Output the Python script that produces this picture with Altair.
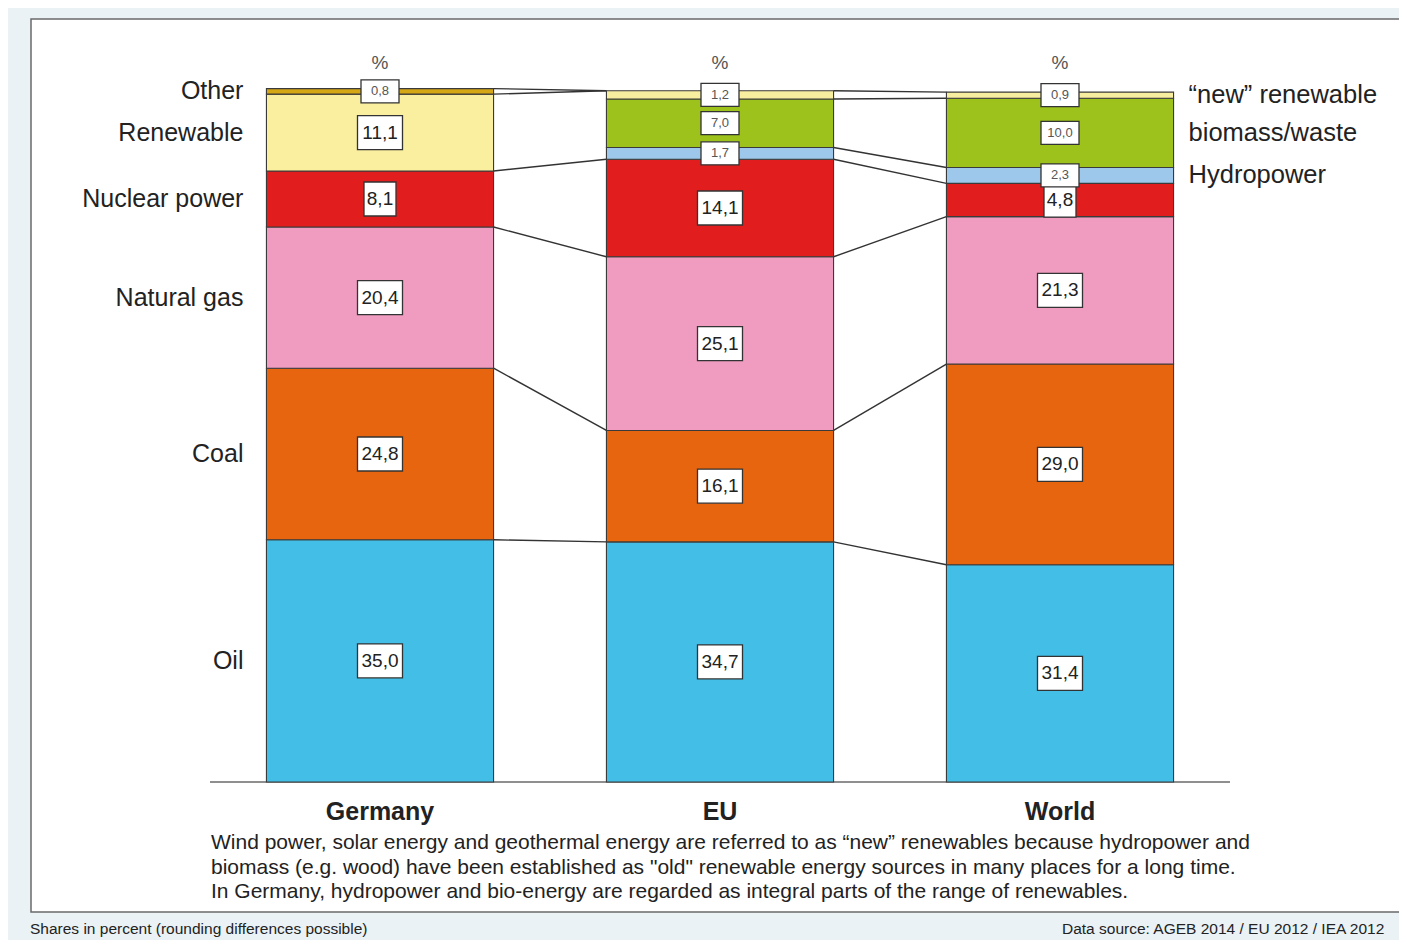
import altair as alt
import pandas as pd

# ---------------- data ----------------
regions = ["Germany", "EU", "World"]

germany_categories = ["Oil", "Coal", "Natural gas", "Nuclear power", "Renewable", "Other"]
germany_values = [35.0, 24.8, 20.4, 8.1, 11.1, 0.8]

eu_world_categories = ["Oil", "Coal", "Natural gas", "Nuclear power",
                       "Hydropower", "biomass/waste", "\u201cnew\u201d renewable"]
eu_values = [34.7, 16.1, 25.1, 14.1, 1.7, 7.0, 1.2]
world_values = [31.4, 29.0, 21.3, 4.8, 2.3, 10.0, 0.9]

category_order = ["Oil", "Coal", "Natural gas", "Nuclear power", "Renewable",
                  "Hydropower", "biomass/waste", "\u201cnew\u201d renewable", "Other"]
category_colors = ["#43BEE7", "#E8650F", "#F09CC0", "#E21D1D", "#FAEE9F",
                   "#9DC8EC", "#9DC21B", "#F8EEA0", "#D6A715"]
small_label_categories = ["Other", "Hydropower", "biomass/waste", "\u201cnew\u201d renewable"]
right_label_categories = ["Hydropower", "biomass/waste", "\u201cnew\u201d renewable"]

# boundaries linked between neighbouring bars (count of segments below boundary)
links_germany_eu = [(1, 1), (2, 2), (3, 3), (4, 4), (5, 7), (6, 7)]
links_eu_world = [(1, 1), (2, 2), (3, 3), (4, 4), (5, 5), (6, 6), (7, 7)]

footnote_lines = [
    "Wind power, solar energy and geothermal energy are referred to as \u201cnew\u201d renewables because hydropower and",
    "biomass (e.g. wood) have been established as \"old\" renewable energy sources in many places for a long time.",
    "In Germany, hydropower and bio-energy are regarded as integral parts of the range of renewables.",
]
source_left = "Shares in percent (rounding differences possible)"
source_right = "Data source: AGEB 2014 / EU 2012 / IEA 2012"

# ---------------- tables ----------------
HALF = 0.334
series = [(germany_categories, germany_values),
          (eu_world_categories, eu_values),
          (eu_world_categories, world_values)]

seg_rows = []
cums = []
for i, (cats, vals) in enumerate(series):
    c = 0.0
    cum = [0.0]
    for cat, v in zip(cats, vals):
        seg_rows.append(dict(region=regions[i], idx=i, category=cat, value=v,
                             start=c, end=c + v, mid=c + v / 2,
                             label=f"{v:.1f}".replace(".", ","),
                             left=i - HALF, right=i + HALF,
                             small=cat in small_label_categories))
        c += v
        cum.append(c)
    cums.append(cum)
seg = pd.DataFrame(seg_rows)

link_rows = []
for i, links in enumerate([links_germany_eu, links_eu_world]):
    for a, b in links:
        link_rows.append(dict(lx=i + HALF, rx=i + 1 - HALF, ly=cums[i][a], ry=cums[i + 1][b]))
links_df = pd.DataFrame(link_rows)

reg_df = pd.DataFrame(dict(region=regions, idx=list(range(len(regions)))))

# ---------------- chart ----------------
FONT = "Liberation Sans"
xscale = alt.Scale(domain=[-0.5, 2.5], nice=False, zero=False)
yscale = alt.Scale(domain=[0, 100], nice=False, zero=False)
W, H = 1020, 692

one = alt.Data(values=[{"a": 1}])

panel = alt.Chart(one).mark_rect(fill="white", stroke="#6a6a6a", strokeWidth=1.5).encode(
    x=alt.value(-179), x2=alt.value(1200), y=alt.value(-71), y2=alt.value(822))

baseline = alt.Chart(one).mark_rule(color="#8f8f8f", strokeWidth=2).encode(
    x=alt.value(0), x2=alt.value(W), y=alt.value(H))

links = alt.Chart(links_df).mark_rule(color="#333333", strokeWidth=1.4).encode(
    x=alt.X("lx:Q", scale=xscale, axis=None), x2="rx:Q",
    y=alt.Y("ly:Q", scale=yscale, axis=None), y2="ry:Q")

bars = alt.Chart(seg).mark_rect(stroke="#3a3a3a", strokeWidth=1.1).encode(
    x=alt.X("left:Q", scale=xscale, axis=None), x2="right:Q",
    y=alt.Y("start:Q", scale=yscale, axis=None), y2="end:Q",
    color=alt.Color("category:N", scale=alt.Scale(domain=category_order, range=category_colors),
                    legend=None))


def box(expr, hw, hh):
    return alt.Chart(seg).transform_filter(expr).mark_rect(
        fill="white", stroke="#333333", strokeWidth=1.3,
        xOffset=-hw, x2Offset=hw, yOffset=-hh, y2Offset=hh).encode(
        x=alt.X("idx:Q", scale=xscale, axis=None), x2="idx:Q",
        y=alt.Y("mid:Q", scale=yscale, axis=None), y2="mid:Q")


box_big4 = box("!datum.small && length(datum.label) == 4", 22.5, 17)
box_big3 = box("!datum.small && length(datum.label) == 3", 16, 17)
box_small = box("datum.small", 19, 11.5)

txt_big = alt.Chart(seg).transform_filter("!datum.small").mark_text(
    font=FONT, fontSize=19, color="#222222", baseline="middle", align="center").encode(
    x=alt.X("idx:Q", scale=xscale, axis=None), y=alt.Y("mid:Q", scale=yscale, axis=None),
    text="label:N")
txt_small = alt.Chart(seg).transform_filter("datum.small").mark_text(
    font=FONT, fontSize=13, color="#555555", baseline="middle", align="center").encode(
    x=alt.X("idx:Q", scale=xscale, axis=None), y=alt.Y("mid:Q", scale=yscale, axis=None),
    text="label:N")

left_labels = alt.Chart(seg).transform_filter("datum.region == 'Germany'").mark_text(
    font=FONT, fontSize=25, color="#222222", align="right", baseline="middle", dx=-23).encode(
    x=alt.X("left:Q", scale=xscale, axis=None), y=alt.Y("mid:Q", scale=yscale, axis=None),
    text="category:N")

right_labels = alt.Chart(seg).transform_filter(
    alt.FieldOneOfPredicate(field="category", oneOf=right_label_categories)).transform_filter(
    "datum.region == 'World'").mark_text(
    font=FONT, fontSize=25.5, color="#222222", align="left", baseline="middle", dx=15).encode(
    x=alt.X("right:Q", scale=xscale, axis=None), y=alt.Y("mid:Q", scale=yscale, axis=None),
    text="category:N")

pct = alt.Chart(reg_df).mark_text(font=FONT, fontSize=19, color="#555555", baseline="middle").encode(
    x=alt.X("idx:Q", scale=xscale, axis=None), y=alt.value(-27), text=alt.value("%"))

region_names = alt.Chart(reg_df).mark_text(
    font=FONT, fontSize=25, fontWeight="bold", color="#222222", baseline="middle").encode(
    x=alt.X("idx:Q", scale=xscale, axis=None), y=alt.value(722), text="region:N")

foot_layers = []
for k, line in enumerate(footnote_lines):
    foot_layers.append(alt.Chart(one).mark_text(
        font=FONT, fontSize=21, color="#222222", align="left", baseline="middle").encode(
        x=alt.value(1), y=alt.value(753 + 24.5 * k), text=alt.value(line)))

src_l = alt.Chart(one).mark_text(font=FONT, fontSize=15.5, color="#222222", align="left",
                                 baseline="middle").encode(
    x=alt.value(-180), y=alt.value(839), text=alt.value(source_left))
src_r = alt.Chart(one).mark_text(font=FONT, fontSize=15.5, color="#222222", align="left",
                                 baseline="middle").encode(
    x=alt.value(852), y=alt.value(839), text=alt.value(source_right))

chart = alt.layer(
    panel, baseline, links, bars, box_big4, box_big3, box_small, txt_big, txt_small,
    left_labels, right_labels, pct, region_names, *foot_layers, src_l, src_r
).properties(
    width=W, height=H,
    autosize=alt.AutoSizeParams(type="none"),
    padding={"left": 202, "top": 82, "right": 169, "bottom": 158},
    background="#EAF2F6",
).configure_view(stroke=None)

chart.save("out.html", embed_options={"renderer": "svg", "actions": False})
